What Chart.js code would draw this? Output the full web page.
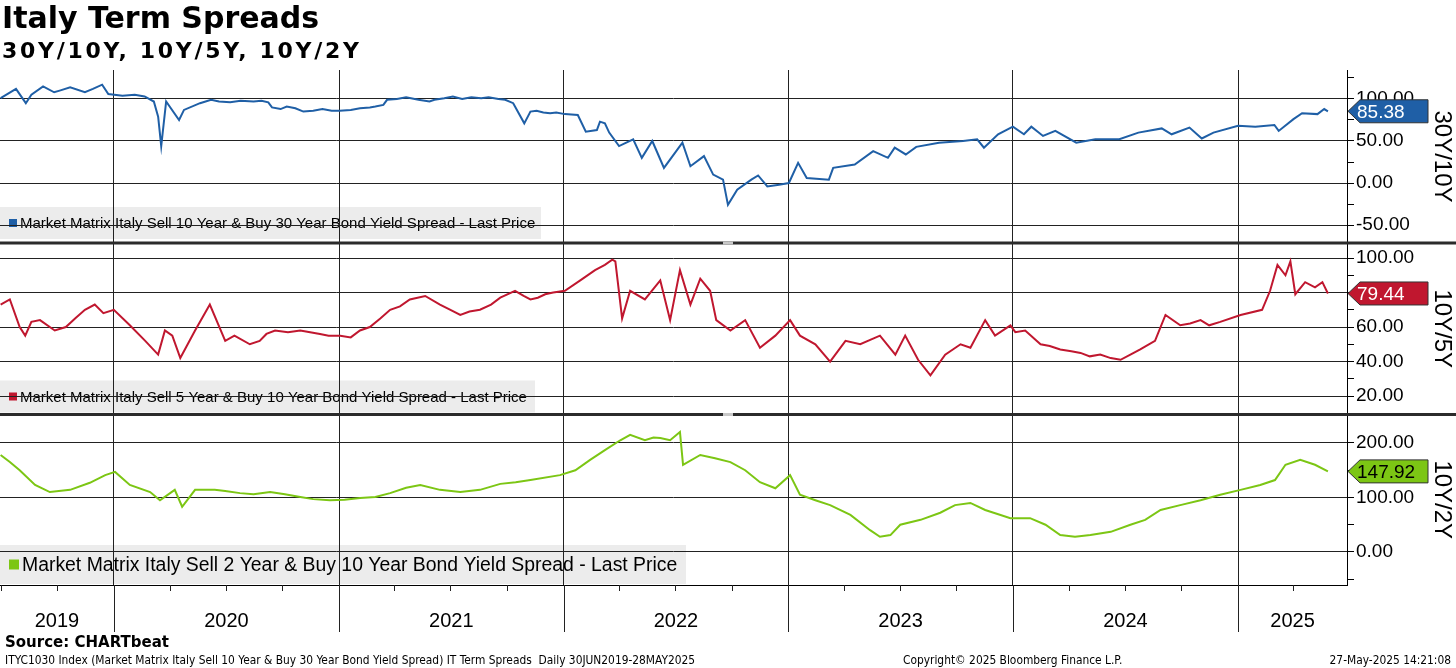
<!DOCTYPE html>
<html>
<head>
<meta charset="utf-8">
<script src="https://cdn.jsdelivr.net/npm/chart.js@4.4.0/dist/chart.umd.min.js"></script>
<style>
  html, body { margin: 0; padding: 0; background: #fff; }
  #wrap { position: relative; width: 1456px; height: 668px; overflow: hidden; }
  #c { position: absolute; left: 0; top: 0; }
  .t { position: absolute; white-space: nowrap; color: #000; }
  #title { left: 2px; top: 0px; font: bold 30px/36px "DejaVu Sans", sans-serif; }
  #sub { left: 2px; top: 37px; font: bold 22px/28px "DejaVu Sans", sans-serif; letter-spacing: 2.7px; }
  #src { left: 5px; top: 632px; font: bold 15px/20px "DejaVu Sans", sans-serif; }
  .foot { top: 652px; font: 11.85px/16px "Liberation Sans Narrow", "DejaVu Sans Condensed", sans-serif; }
</style>
</head>
<body>
<div id="wrap">
  <canvas id="c" width="1456" height="668"></canvas>
  <div class="t" id="title">Italy Term Spreads</div>
  <div class="t" id="sub">30Y/10Y, 10Y/5Y, 10Y/2Y</div>
  <div class="t" id="src">Source: CHARTbeat</div>
  <div class="t foot" style="left:5px">ITYC1030 Index (Market Matrix Italy Sell 10 Year &amp; Buy 30 Year Bond Yield Spread) IT Term Spreads&nbsp; Daily 30JUN2019-28MAY2025</div>
  <div class="t foot" style="left:903px">Copyright© 2025 Bloomberg Finance L.P.</div>
  <div class="t foot" style="right:5px">27-May-2025 14:21:08</div>
</div>
<script>
// x range and year labels
const X_MIN = Date.parse('2019-06-30');
const X_MAX = Date.parse('2025-06-27');
const years = ['2019', '2020', '2021', '2022', '2023', '2024', '2025'];

const axisTitles = ['30Y/10Y', '10Y/5Y', '10Y/2Y'];
const seriesNames = [
    'Market Matrix Italy Sell 10 Year & Buy 30 Year Bond Yield Spread - Last Price',
    'Market Matrix Italy Sell 5 Year & Buy 10 Year Bond Yield Spread - Last Price',
    'Market Matrix Italy Sell 2 Year & Buy 10 Year Bond Yield Spread - Last Price'
];

// 30Y/10Y
const d30 = ['2019-07-01','2019-07-26','2019-08-11','2019-08-20','2019-09-08','2019-09-26','2019-10-05','2019-10-22','2019-11-15','2019-11-28',
    '2019-12-13','2019-12-23','2020-01-15','2020-02-04','2020-02-20','2020-03-06','2020-03-13','2020-03-18','2020-03-26','2020-04-16',
    '2020-04-24','2020-05-20','2020-06-07','2020-06-20','2020-07-08','2020-07-25','2020-08-15','2020-08-28','2020-09-08','2020-09-14',
    '2020-09-28','2020-10-08','2020-10-22','2020-11-04','2020-11-20','2020-12-05','2020-12-20','2021-01-02','2021-01-20','2021-02-04',
    '2021-02-20','2021-03-01','2021-03-14','2021-03-20','2021-04-05','2021-04-20','2021-05-10','2021-05-28','2021-06-05','2021-06-21',
    '2021-07-05','2021-07-20','2021-08-04','2021-08-20','2021-09-01','2021-09-17','2021-09-28','2021-10-11','2021-10-29','2021-11-08',
    '2021-11-18','2021-11-29','2021-12-10','2021-12-20','2022-01-03','2022-01-24','2022-02-06','2022-02-24','2022-03-01','2022-03-09',
    '2022-03-16','2022-04-01','2022-04-24','2022-05-08','2022-05-25','2022-06-13','2022-07-13','2022-07-26','2022-08-17','2022-09-01',
    '2022-09-17','2022-09-25','2022-10-10','2022-11-02','2022-11-13','2022-11-28','2022-12-17','2023-01-02','2023-01-17','2023-01-31',
    '2023-03-08','2023-03-15','2023-04-19','2023-05-19','2023-06-12','2023-06-23','2023-07-11','2023-07-28','2023-09-03','2023-10-12',
    '2023-11-04','2023-11-15','2023-12-08','2024-01-01','2024-01-19','2024-01-31','2024-02-19','2024-03-10','2024-04-13','2024-05-14',
    '2024-06-22','2024-07-23','2024-08-30','2024-09-15','2024-10-14','2024-11-03','2024-11-22','2025-01-01','2025-01-29','2025-03-01',
    '2025-03-08','2025-04-01','2025-04-15','2025-05-10','2025-05-21','2025-05-27'];
const v30 = [101,112,95,105,115,108,110,114,108,112,
    117,106,104,105,103,97,79,44,97,75,
    87,95,99,97,96,98,97,98,96,90,
    88,91,89,85,86,88,86,86,87,89,
    90,91,93,99,100,102,99,97,99,101,
    103,100,102,101,102,100,99,95,71,85,
    86,84,83,84,82,81,61,63,73,71,
    60,44,52,30,50,18,48,20,32,10,
    4,-26,-8,4,9,-4,-2,0,24,6,
    4,18,22,38,30,42,34,43,48,50,
    52,42,58,67,58,67,56,62,48,52,
    52,60,65,58,66,53,60,68,67,69,
    62,76,83,82,88,85.38];

// 10Y/5Y
const d5 = ['2019-07-01','2019-07-16','2019-08-01','2019-08-10','2019-08-20','2019-09-03','2019-09-27','2019-10-15','2019-10-30','2019-11-15',
    '2019-12-01','2019-12-15','2020-01-01','2020-01-27','2020-02-21','2020-03-13','2020-03-24','2020-04-05','2020-04-18','2020-05-12',
    '2020-06-05','2020-06-30','2020-07-15','2020-08-09','2020-08-25','2020-09-05','2020-09-19','2020-10-10','2020-10-30','2020-11-15',
    '2020-12-01','2020-12-15','2021-01-03','2021-01-20','2021-02-04','2021-02-20','2021-03-09','2021-03-25','2021-04-10','2021-04-26',
    '2021-05-21','2021-06-14','2021-07-01','2021-07-17','2021-08-01','2021-08-18','2021-09-05','2021-09-20','2021-10-14','2021-10-28',
    '2021-11-08','2021-11-20','2021-12-02','2021-12-15','2022-01-03','2022-01-28','2022-02-21','2022-03-09','2022-03-21','2022-03-26',
    '2022-04-06','2022-04-19','2022-05-13','2022-06-07','2022-06-23','2022-07-09','2022-07-26','2022-08-11','2022-08-27','2022-09-06',
    '2022-09-29','2022-10-23','2022-11-16','2022-12-11','2023-01-04','2023-01-20','2023-02-14','2023-03-10','2023-04-04','2023-04-28',
    '2023-05-30','2023-06-24','2023-07-10','2023-07-31','2023-08-20','2023-09-13','2023-10-08','2023-10-24','2023-11-17','2023-12-03',
    '2023-12-28','2024-01-05','2024-01-21','2024-02-15','2024-03-01','2024-03-18','2024-04-05','2024-04-20','2024-05-05','2024-05-22',
    '2024-06-08','2024-06-24','2024-07-10','2024-07-26','2024-08-19','2024-09-05','2024-09-29','2024-10-15','2024-11-01','2024-11-15',
    '2024-12-03','2025-01-05','2025-02-09','2025-02-22','2025-03-06','2025-03-19','2025-03-27','2025-04-04','2025-04-20','2025-05-06',
    '2025-05-18','2025-05-27'];
const v5 = [73,76,60,55,63,64,58,60,65,70,
    73,68,70,61,52,44,58,55,42,58,
    73,52,55,50,52,56,58,57,58,57,
    56,55,55,54,58,60,65,70,72,76,
    78,73,70,67,69,70,73,77,81,78,
    76,77,79,80,81,87,93,96,99,98,
    65,81,76,87,64,93,73,88,81,64,
    58,64,48,55,64,55,50,40,52,50,
    55,44,55,41,32,44,50,48,64,55,
    61,57,58,50,49,47,46,45,43,44,
    42,41,44,47,52,67,61,62,64,61,
    63,67,70,81,96,90,98,79,86,83,
    86,79.44];

// 10Y/2Y
const d2 = ['2019-07-01','2019-07-16','2019-08-01','2019-08-26','2019-09-19','2019-10-22','2019-11-23','2019-12-18','2020-01-03','2020-01-27',
    '2020-02-29','2020-03-16','2020-04-09','2020-04-21','2020-05-12','2020-06-13','2020-06-30','2020-07-24','2020-08-15','2020-09-11',
    '2020-10-05','2020-10-30','2020-11-20','2020-12-17','2021-01-10','2021-02-04','2021-03-01','2021-03-25','2021-04-20','2021-05-13',
    '2021-06-14','2021-07-17','2021-08-18','2021-09-20','2021-10-15','2021-11-08','2021-12-26','2022-01-20','2022-02-13','2022-03-09',
    '2022-04-03','2022-04-19','2022-05-13','2022-05-27','2022-06-07','2022-06-23','2022-07-09','2022-07-14','2022-08-11','2022-09-04',
    '2022-09-29','2022-10-23','2022-11-16','2022-12-11','2023-01-04','2023-01-20','2023-02-14','2023-03-10','2023-04-12','2023-05-14',
    '2023-05-30','2023-06-16','2023-07-02','2023-08-04','2023-09-05','2023-09-29','2023-10-24','2023-11-17','2023-12-12','2023-12-28',
    '2024-01-29','2024-02-23','2024-03-18','2024-04-11','2024-05-06','2024-06-08','2024-07-10','2024-08-03','2024-08-28','2024-09-29',
    '2024-11-01','2024-12-03','2025-01-05','2025-02-06','2025-03-02','2025-03-19','2025-04-12','2025-05-06','2025-05-27'];
const v2 = [178,165,150,123,110,114,127,141,147,123,
    110,95,114,83,114,114,112,108,106,110,
    106,101,97,95,96,99,101,108,118,123,
    114,110,114,125,128,132,141,150,169,187,
    205,215,205,210,209,205,220,160,178,172,
    165,150,128,117,141,105,95,86,68,40,
    28,31,50,59,72,86,90,77,68,62,
    62,50,31,28,31,37,50,59,77,86,
    95,105,114,123,132,160,169,160,147.92];

const colors = ['#1f5fa6', '#c0172f', '#7cc614'];
const badgeText = ['#fff', '#fff', '#000'];

const pts = (d, v) => d.map((s, i) => ({ x: Date.parse(s), y: v[i] }));

// quarter ticks on the time axis, Jan 1 ones get the long year line
const xTicks = [];
for (let y = 2019; y <= 2025; y++) {
    for (const m of [0, 3, 6, 9]) {
        const t = Date.UTC(y, m, 1);
        if (t >= X_MIN && t <= X_MAX) xTicks.push(t);
    }
}
const isYear = v => new Date(v).getUTCMonth() === 0;

function yAxis(min, max, step, weight, title) {
    return {
        type: 'linear', position: 'right', stack: 'panels', stackWeight: weight, min: min, max: max,
        afterBuildTicks: s => {
            const t = [];
            const h = step / 2;
            for (let v = Math.ceil(min / h) * h; v <= max; v += h) t.push({ value: v });
            s.ticks = t;
        },
        afterFit: s => { s.width = 109; },
        grid: {
            color: c => (c.tick && c.tick.value % step === 0) ? '#222' : 'rgba(0,0,0,0)',
            tickColor: '#000', tickLength: 7, lineWidth: 1
        },
        border: { color: '#000', width: 1 },
        ticks: {
            autoSkip: false, padding: 2, color: '#000',
            font: { family: 'Liberation Sans', size: 19 },
            callback: v => (v % step === 0) ? v.toFixed(2) : ''
        },
        title: {
            display: true, text: title, color: '#000',
            font: { family: 'Liberation Sans', size: 24 }, padding: { top: 0, bottom: 0 }
        }
    };
}

const legendBoxes = [
    { off: 4, h: 32, w: 541, sq: 8, tx: 20, font: '15px "Liberation Sans"' },
    { off: 2, h: 32, w: 535, sq: 8, tx: 20, font: '15px "Liberation Sans"' },
    { off: 1, h: 39, w: 686, sq: 10, tx: 22, font: '19.4px "Liberation Sans"' }
];

const panels = {
    id: 'panels',
    beforeDraw(chart) {
        const ctx = chart.ctx;
        const L = chart.chartArea.left;
        ctx.save();
        legendBoxes.forEach((b, i) => {
            const ax = chart.scales['y' + i];
            const top = ax.bottom - b.off - b.h;
            ctx.fillStyle = '#ececec';
            ctx.fillRect(L, top, b.w, b.h);
            ctx.fillStyle = colors[i];
            ctx.fillRect(L + 9, top + b.h / 2 - b.sq / 2, b.sq, b.sq);
            ctx.fillStyle = '#000';
            ctx.font = b.font;
            ctx.textBaseline = 'middle';
            ctx.fillText(seriesNames[i], L + b.tx, top + b.h / 2 + 1);
        });
        ctx.restore();
    },
    afterDraw(chart) {
        const ctx = chart.ctx;
        const area = chart.chartArea;
        const xs = chart.scales.x;
        ctx.save();
        // panel separators
        for (let i = 0; i < 2; i++) {
            const y = chart.scales['y' + i].bottom;
            ctx.fillStyle = '#2b2b2b';
            ctx.fillRect(0, y - 1.5, chart.width, 3);
            ctx.fillStyle = '#c8c8c8';
            ctx.fillRect(723, y - 1.5, 10, 3);
        }
        // x tick marks and year lines below the plot
        ctx.strokeStyle = '#222';
        ctx.lineWidth = 1;
        xTicks.forEach(t => {
            const px = Math.round(xs.getPixelForValue(t)) + 0.5;
            ctx.beginPath();
            ctx.moveTo(px, area.bottom);
            ctx.lineTo(px, area.bottom + (isYear(t) ? 47 : 6));
            ctx.stroke();
        });
        // year labels centred in each year
        ctx.fillStyle = '#000';
        ctx.font = '20px "Liberation Sans"';
        ctx.textAlign = 'center';
        ctx.textBaseline = 'middle';
        years.forEach(y => {
            const a = Math.max(Date.UTC(+y, 0, 1), X_MIN);
            const b = Math.min(Date.UTC(+y + 1, 0, 1), X_MAX);
            const px = (xs.getPixelForValue(a) + xs.getPixelForValue(b)) / 2;
            ctx.fillText(y, px, area.bottom + 36);
        });
        // last value badges
        chart.data.datasets.forEach((ds, i) => {
            const last = ds.data[ds.data.length - 1];
            const y = chart.scales['y' + i].getPixelForValue(last.y);
            const x0 = area.right + 1, x1 = x0 + 12, x2 = x0 + 80, h = 11.5;
            ctx.beginPath();
            ctx.moveTo(x0, y);
            ctx.lineTo(x1, y - h);
            ctx.lineTo(x2, y - h);
            ctx.lineTo(x2, y + h);
            ctx.lineTo(x1, y + h);
            ctx.closePath();
            ctx.fillStyle = colors[i];
            ctx.fill();
            ctx.strokeStyle = '#333';
            ctx.stroke();
            ctx.fillStyle = badgeText[i];
            ctx.font = '19px "Liberation Sans"';
            ctx.textAlign = 'left';
            ctx.fillText(last.y.toFixed(2), x0 + 9, y + 1);
        });
        ctx.restore();
    }
};

const mkSet = (d, v, i) => ({
    data: pts(d, v), yAxisID: 'y' + i, borderColor: colors[i], borderWidth: 2,
    pointRadius: 0, tension: 0, fill: false
});

new Chart(document.getElementById('c').getContext('2d'), {
    type: 'line',
    data: { datasets: [mkSet(d30, v30, 0), mkSet(d5, v5, 1), mkSet(d2, v2, 2)] },
    options: {
        responsive: false,
        animation: false,
        devicePixelRatio: 1,
        layout: { padding: { top: 70, left: 0, right: 0, bottom: 0 } },
        plugins: { legend: { display: false }, tooltip: { enabled: false } },
        scales: {
            x: {
                type: 'linear', min: X_MIN, max: X_MAX,
                afterBuildTicks: s => { s.ticks = xTicks.map(v => ({ value: v })); },
                afterFit: s => { s.height = 83; },
                grid: { color: c => (c.tick && isYear(c.tick.value)) ? '#222' : 'rgba(0,0,0,0)', drawTicks: false },
                border: { color: '#000' },
                ticks: { display: false }
            },
            y0: yAxis(-71.4, 134.5, 50, 173, axisTitles[0]),
            y1: yAxis(9.3, 108.7, 20, 171.5, axisTitles[1]),
            y2: yAxis(-60.6, 252.3, 100, 170.5, axisTitles[2])
        }
    },
    plugins: [panels]
});
</script>
</body>
</html>
